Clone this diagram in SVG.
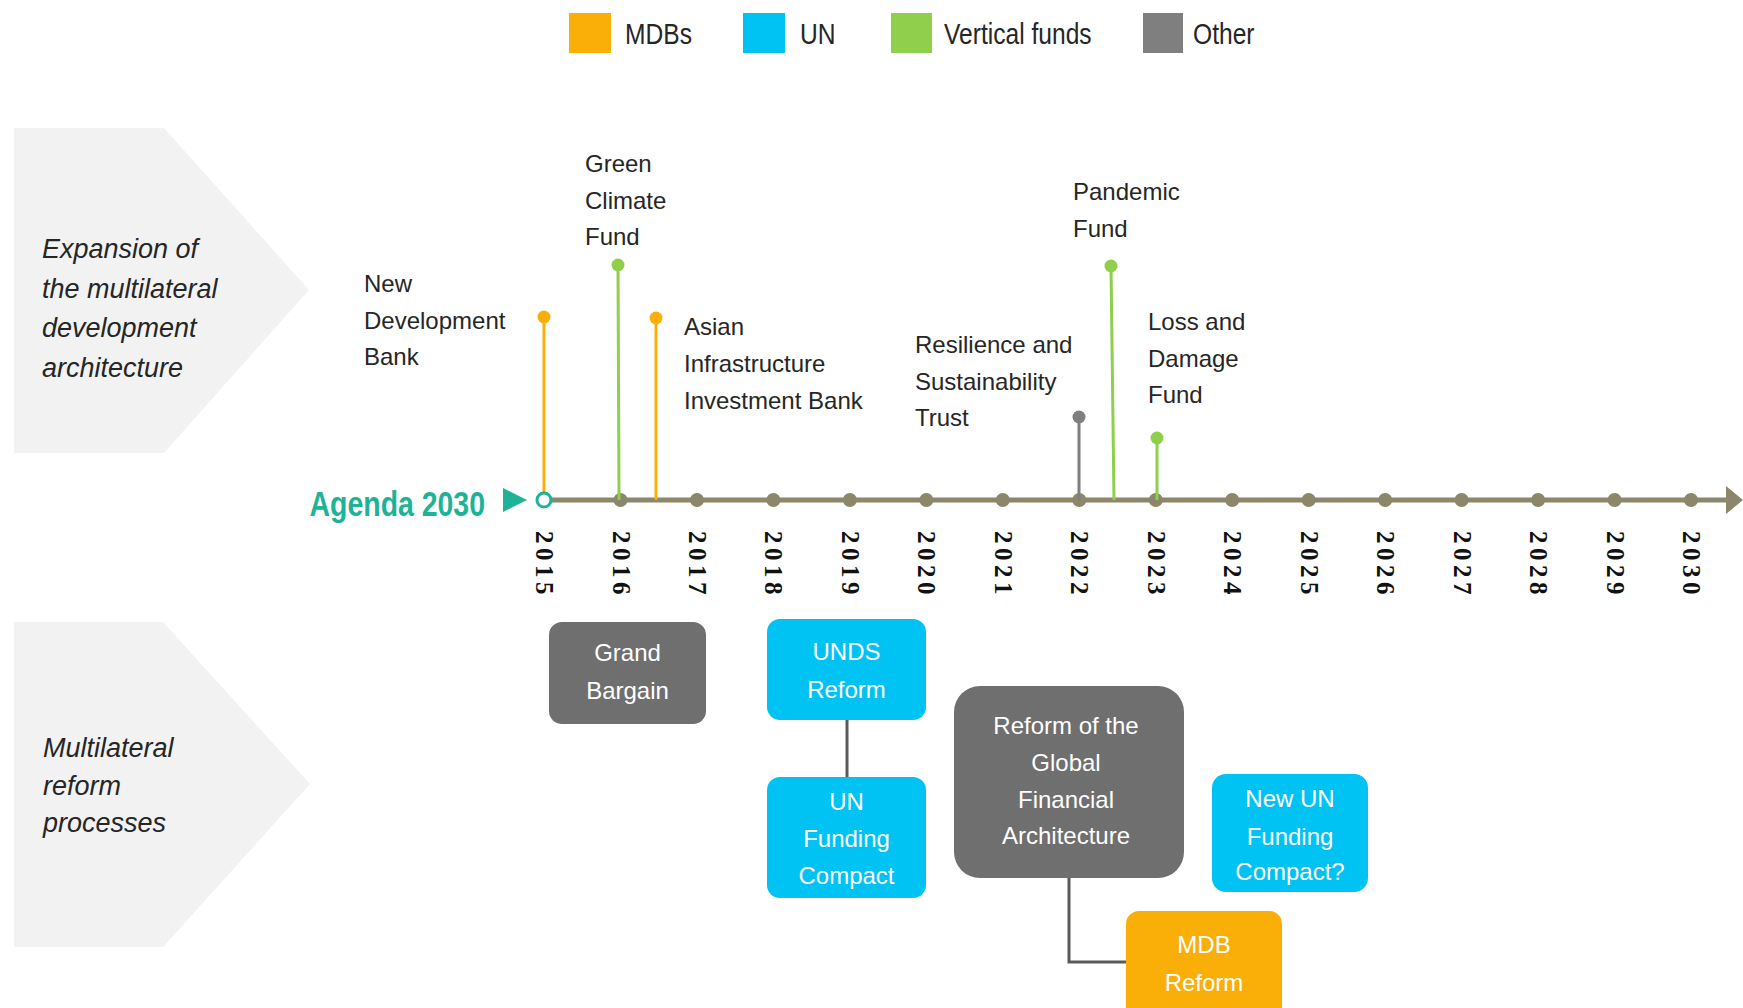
<svg xmlns="http://www.w3.org/2000/svg" width="1743" height="1008" viewBox="0 0 1743 1008">
<style>
  .lbl{font-family:"Liberation Sans",Arial,sans-serif;font-size:24px;fill:#262626}
  .side{font-family:"Liberation Sans",Arial,sans-serif;font-size:27px;font-style:italic;fill:#262626}
  .leg{font-family:"Liberation Sans",Arial,sans-serif;font-size:30px;fill:#262626}
  .box{font-family:"Liberation Sans",Arial,sans-serif;font-size:24px;fill:#ffffff;text-anchor:middle}
  .yr{font-family:"Liberation Serif","Times New Roman",serif;font-size:25px;font-weight:bold;fill:#111111;letter-spacing:4.5px}
  .agenda{font-family:"Liberation Sans",Arial,sans-serif;font-size:36px;font-weight:bold;fill:#1eb396;text-anchor:end}
  .mdb{fill:#f9ae08}
  .un{fill:#00c2f3}
  .vf{fill:#8fcf4c}
  .oth{fill:#7f7f7f}
  .gbox{fill:#6f6f6f}
  .tick{fill:#8c866a}
  .stem{stroke-width:3;fill:none}
  .conn{stroke:#5a5a5a;stroke-width:3;fill:none}
  .chev{fill:#f2f2f2}
</style>

<!-- Legend -->
<g id="legend">
  <g id="legend-mdbs"><rect class="mdb" x="569" y="13" width="42" height="40"/><text class="leg" transform="translate(625,44) scale(0.82,1)">MDBs</text></g>
  <g id="legend-un"><rect class="un" x="743" y="13" width="42" height="40"/><text class="leg" transform="translate(800,44) scale(0.82,1)">UN</text></g>
  <g id="legend-vf"><rect class="vf" x="891" y="13" width="41" height="40"/><text class="leg" transform="translate(944,44) scale(0.82,1)">Vertical funds</text></g>
  <g id="legend-other"><rect class="oth" x="1143" y="13" width="40" height="40"/><text class="leg" transform="translate(1193,44) scale(0.82,1)">Other</text></g>
</g>

<!-- Side chevrons -->
<g id="chevron-expansion">
  <polygon class="chev" points="14,128 164,128 309,290 164,453 14,453"/>
  <text class="side" x="42" y="258">Expansion of</text>
  <text class="side" x="42" y="298">the multilateral</text>
  <text class="side" x="42" y="337">development</text>
  <text class="side" x="42" y="377">architecture</text>
</g>
<g id="chevron-reform">
  <polygon class="chev" points="14,622 163,622 310,784 163,947 14,947"/>
  <text class="side" x="43" y="757">Multilateral</text>
  <text class="side" x="43" y="795">reform</text>
  <text class="side" x="43" y="832">processes</text>
</g>

<!-- Timeline -->
<g id="timeline">
  <line x1="544" y1="500" x2="1728" y2="500" stroke="#8c866a" stroke-width="5"/>
  <polygon class="tick" points="1726,486 1743,500 1726,514"/>
  <g id="agenda-2030">
    <text class="agenda" transform="translate(485,516) scale(0.79,1)">Agenda 2030</text>
    <polygon fill="#1eb396" points="503,488 503,512 527,500"/>
  </g>
  <g id="ticks">
    <circle class="tick" cx="620.5" cy="500" r="7"/>
    <circle class="tick" cx="697" cy="500" r="7"/>
    <circle class="tick" cx="773.4" cy="500" r="7"/>
    <circle class="tick" cx="849.9" cy="500" r="7"/>
    <circle class="tick" cx="926.4" cy="500" r="7"/>
    <circle class="tick" cx="1002.8" cy="500" r="7"/>
    <circle class="tick" cx="1079.3" cy="500" r="7"/>
    <circle class="tick" cx="1155.8" cy="500" r="7"/>
    <circle class="tick" cx="1232.2" cy="500" r="7"/>
    <circle class="tick" cx="1308.7" cy="500" r="7"/>
    <circle class="tick" cx="1385.2" cy="500" r="7"/>
    <circle class="tick" cx="1461.6" cy="500" r="7"/>
    <circle class="tick" cx="1538.1" cy="500" r="7"/>
    <circle class="tick" cx="1614.6" cy="500" r="7"/>
    <circle class="tick" cx="1691" cy="500" r="7"/>
  </g>
  <g id="years">
    <text class="yr" transform="translate(536,531) rotate(90)">2015</text>
    <text class="yr" transform="translate(612.5,531) rotate(90)">2016</text>
    <text class="yr" transform="translate(689,531) rotate(90)">2017</text>
    <text class="yr" transform="translate(765.4,531) rotate(90)">2018</text>
    <text class="yr" transform="translate(841.9,531) rotate(90)">2019</text>
    <text class="yr" transform="translate(918.4,531) rotate(90)">2020</text>
    <text class="yr" transform="translate(994.8,531) rotate(90)">2021</text>
    <text class="yr" transform="translate(1071.3,531) rotate(90)">2022</text>
    <text class="yr" transform="translate(1147.8,531) rotate(90)">2023</text>
    <text class="yr" transform="translate(1224.2,531) rotate(90)">2024</text>
    <text class="yr" transform="translate(1300.7,531) rotate(90)">2025</text>
    <text class="yr" transform="translate(1377.2,531) rotate(90)">2026</text>
    <text class="yr" transform="translate(1453.6,531) rotate(90)">2027</text>
    <text class="yr" transform="translate(1530.1,531) rotate(90)">2028</text>
    <text class="yr" transform="translate(1606.6,531) rotate(90)">2029</text>
    <text class="yr" transform="translate(1683,531) rotate(90)">2030</text>
  </g>
</g>

<!-- Events -->
<g id="event-ndb">
  <line class="stem" x1="544" y1="317" x2="544" y2="493" stroke="#f9ae08"/>
  <circle class="mdb" cx="544" cy="317" r="6.5"/>
  <circle cx="544" cy="500" r="7" fill="#ffffff" stroke="#1eb396" stroke-width="3"/>
  <text class="lbl" x="364" y="292">New</text>
  <text class="lbl" x="364" y="329">Development</text>
  <text class="lbl" x="364" y="365">Bank</text>
</g>
<g id="event-gcf">
  <line class="stem" x1="618" y1="265" x2="619" y2="500" stroke="#8fcf4c"/>
  <circle class="vf" cx="618" cy="265" r="6.5"/>
  <text class="lbl" x="585" y="172">Green</text>
  <text class="lbl" x="585" y="209">Climate</text>
  <text class="lbl" x="585" y="245">Fund</text>
</g>
<g id="event-aiib">
  <line class="stem" x1="656" y1="318" x2="656" y2="500" stroke="#f9ae08"/>
  <circle class="mdb" cx="656" cy="318" r="6.5"/>
  <text class="lbl" x="684" y="335">Asian</text>
  <text class="lbl" x="684" y="372">Infrastructure</text>
  <text class="lbl" x="684" y="409">Investment Bank</text>
</g>
<g id="event-rst">
  <line class="stem" x1="1079" y1="417" x2="1079" y2="500" stroke="#7f7f7f"/>
  <circle class="oth" cx="1079" cy="417" r="6.5"/>
  <text class="lbl" x="915" y="353">Resilience and</text>
  <text class="lbl" x="915" y="390">Sustainability</text>
  <text class="lbl" x="915" y="426">Trust</text>
</g>
<g id="event-pandemic">
  <line class="stem" x1="1111" y1="266" x2="1114" y2="500" stroke="#8fcf4c"/>
  <circle class="vf" cx="1111" cy="266" r="6.5"/>
  <text class="lbl" x="1073" y="200">Pandemic</text>
  <text class="lbl" x="1073" y="237">Fund</text>
</g>
<g id="event-lossdamage">
  <line class="stem" x1="1157" y1="438" x2="1157" y2="500" stroke="#8fcf4c"/>
  <circle class="vf" cx="1157" cy="438" r="6.5"/>
  <text class="lbl" x="1148" y="330">Loss and</text>
  <text class="lbl" x="1148" y="367">Damage</text>
  <text class="lbl" x="1148" y="403">Fund</text>
</g>

<!-- Connectors -->
<g id="connectors">
  <line class="conn" x1="847" y1="720" x2="847" y2="777"/>
  <polyline class="conn" points="1069,878 1069,962 1126,962"/>
</g>

<!-- Reform boxes -->
<g id="box-grand-bargain">
  <rect class="gbox" x="549" y="622" width="157" height="102" rx="13"/>
  <text class="box" x="627.5" y="661">Grand</text>
  <text class="box" x="627.5" y="699">Bargain</text>
</g>
<g id="box-unds">
  <rect class="un" x="767" y="619" width="159" height="101" rx="13"/>
  <text class="box" x="846.5" y="660">UNDS</text>
  <text class="box" x="846.5" y="698">Reform</text>
</g>
<g id="box-un-funding">
  <rect class="un" x="767" y="777" width="159" height="121" rx="13"/>
  <text class="box" x="846.5" y="810">UN</text>
  <text class="box" x="846.5" y="847">Funding</text>
  <text class="box" x="846.5" y="884">Compact</text>
</g>
<g id="box-gfa">
  <rect class="gbox" x="954" y="686" width="230" height="192" rx="26"/>
  <text class="box" x="1066" y="734">Reform of the</text>
  <text class="box" x="1066" y="771">Global</text>
  <text class="box" x="1066" y="808">Financial</text>
  <text class="box" x="1066" y="844">Architecture</text>
</g>
<g id="box-new-un-funding">
  <rect class="un" x="1212" y="774" width="156" height="118" rx="14"/>
  <text class="box" x="1290" y="807">New UN</text>
  <text class="box" x="1290" y="845">Funding</text>
  <text class="box" x="1290" y="880">Compact?</text>
</g>
<g id="box-mdb-reform">
  <rect class="mdb" x="1126" y="911" width="156" height="110" rx="13"/>
  <text class="box" x="1204" y="953">MDB</text>
  <text class="box" x="1204" y="991">Reform</text>
</g>
</svg>
